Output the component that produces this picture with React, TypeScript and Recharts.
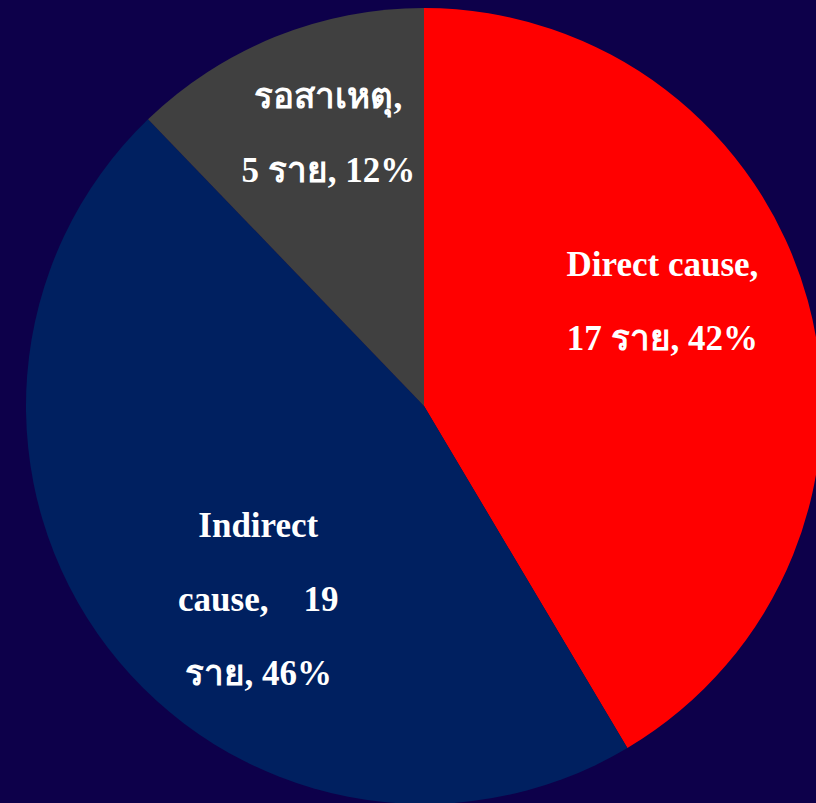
import React from 'react';
import { PieChart, Pie, Cell } from 'recharts';

const categories = ['Direct cause', 'Indirect cause', 'รอสาเหตุ'];
const values = [17, 19, 5];
const percents = [42, 46, 12];
const colors = ['#FF0000', '#002060', '#404040'];
const unit = 'ราย';

const data = categories.map((name, i) => ({ name, value: values[i], pct: percents[i] }));

// label text broken into lines, as in the original
const labelLines: string[][] = [
  [`${categories[0]},`, `${values[0]} ${unit}, ${percents[0]}%`],
  ['Indirect', `cause,    ${values[1]}`, `${unit}, ${percents[1]}%`],
  [`${categories[2]},`, `${values[2]} ${unit}, ${percents[2]}%`],
];

// small nudges of each label from its mid-angle anchor
const labelNudge = [
  { dx: -11, dy: -61 },
  { dx: 40, dy: -26 },
  { dx: 1, dy: -58 },
];

const RAD = Math.PI / 180;
const LINE_H = 74;

const renderLabel = (props: any) => {
  const { cx, cy, midAngle, outerRadius, index } = props;
  const r = outerRadius * 0.65;
  const x = cx + r * Math.cos(-midAngle * RAD) + labelNudge[index].dx;
  const y = cy + r * Math.sin(-midAngle * RAD) + labelNudge[index].dy;
  return (
    <text
      x={x}
      y={y}
      textAnchor="middle"
      fill="#FFFFFF"
      fontFamily="'Liberation Serif', 'Times New Roman', serif"
      fontWeight="bold"
      fontSize={35}
      style={{ whiteSpace: 'pre' }}
    >
      {labelLines[index].map((line, k) => (
        <tspan key={k} x={x} y={y + k * LINE_H}>
          {line}
        </tspan>
      ))}
    </text>
  );
};

export default function App() {
  return (
    <div
      style={{
        position: 'absolute',
        left: 0,
        top: 0,
        width: 816,
        height: 803,
        background: '#0D004A',
        overflow: 'hidden',
      }}
    >
      <PieChart width={816} height={803} margin={{ top: 0, right: 0, bottom: 0, left: 0 }}>
        <Pie
          data={data}
          dataKey="value"
          nameKey="name"
          cx={424}
          cy={406}
          outerRadius={398}
          startAngle={90}
          endAngle={-270}
          stroke="none"
          label={renderLabel}
          labelLine={false}
          isAnimationActive={false}
        >
          {data.map((d, i) => (
            <Cell key={d.name} fill={colors[i]} />
          ))}
        </Pie>
      </PieChart>
    </div>
  );
}
